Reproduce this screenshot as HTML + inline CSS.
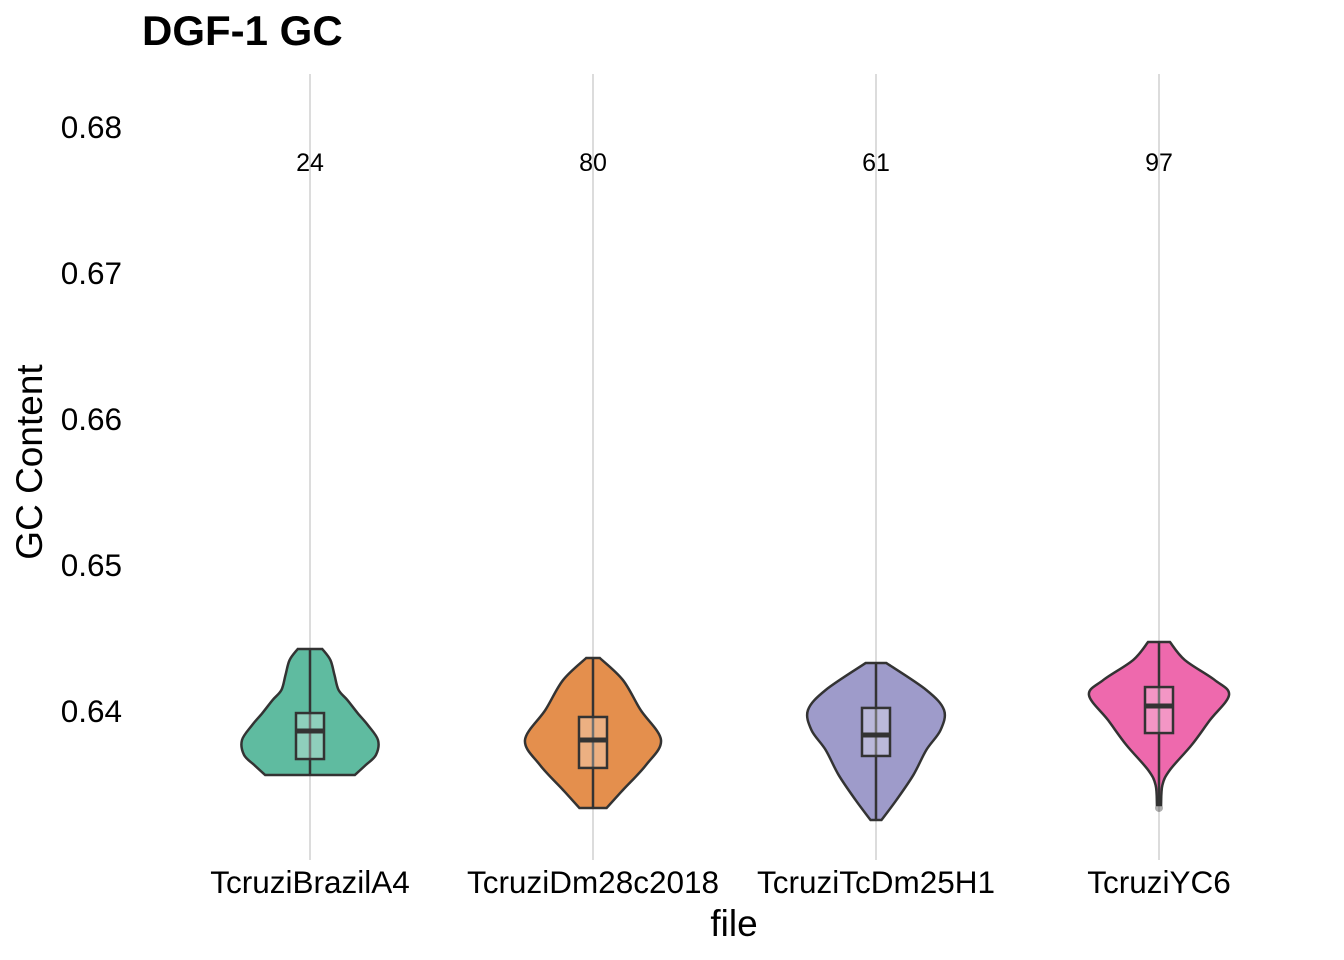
<!DOCTYPE html>
<html><head><meta charset="utf-8"><style>
body{margin:0;background:#fff;}
svg{display:block;font-family:"Liberation Sans",sans-serif;}
</style></head><body>
<svg id="chart" width="1344" height="960">
<text x="142" y="45" font-size="42" font-weight="bold" fill="#000">DGF-1 GC</text>
<text transform="translate(42,462) rotate(-90)" text-anchor="middle" font-size="37" fill="#000">GC Content</text>
<text x="734" y="936" text-anchor="middle" font-size="37" fill="#000">file</text>
<g id="grid"></g><g id="yticks"></g><g id="violins"></g><g id="labels"></g>
</svg>
<script>
const categories=["TcruziBrazilA4","TcruziDm28c2018","TcruziTcDm25H1","TcruziYC6"];
const counts=[24,80,61,97];
const yTicks=[0.64,0.65,0.66,0.67,0.68];
const yTickLabels=["0.64","0.65","0.66","0.67","0.68"];
const colors=["#1b9e77","#d95f02","#7570b3","#e7298a"];
const densGC=[
[0.64425,0.64349,0.64247,0.64144,0.64075,0.63986,0.63904,0.63801,0.63699,0.6363,0.63562],
[0.64363,0.64212,0.64007,0.63801,0.6363,0.63459,0.63336],
[0.64329,0.64144,0.64007,0.6387,0.63733,0.63562,0.6339,0.63253],
[0.64473,0.64349,0.64212,0.6411,0.63938,0.63767,0.63596,0.63493,0.63356]];
const densVal=[
[0.18,0.3,0.36,0.42,0.55,0.7,0.85,1.0,0.97,0.82,0.66],
[0.1,0.44,0.7,1.0,0.78,0.44,0.2],
[0.15,0.74,1.0,0.95,0.74,0.55,0.3,0.08],
[0.16,0.38,0.82,1.03,0.75,0.48,0.16,0.05,0.03]];
const q1=[0.63671,0.6361,0.63692,0.63849];
const med=[0.63863,0.63801,0.63836,0.64034];
const q3=[0.63986,0.63959,0.64021,0.64164];
const whiskLo=[0.63562,0.63336,0.63253,0.63356];
const whiskHi=[0.64425,0.64363,0.64329,0.64473];
const outliers=[[],[],[],[0.63336]];

const NS="http://www.w3.org/2000/svg";
function y(v){return 711-(v-0.64)*14600;}
function x(i){return 310+i*283;}
const halfMax=68;
function mk(tag,attrs,parent){const e=document.createElementNS(NS,tag);for(const k in attrs)e.setAttribute(k,attrs[k]);document.getElementById(parent).appendChild(e);return e;}
function smooth(pts){let d="";for(let i=0;i<pts.length-1;i++){const p0=pts[Math.max(0,i-1)],p1=pts[i],p2=pts[i+1],p3=pts[Math.min(pts.length-1,i+2)];
const c1=[p1[0]+(p2[0]-p0[0])/6,p1[1]+(p2[1]-p0[1])/6],c2=[p2[0]-(p3[0]-p1[0])/6,p2[1]-(p3[1]-p1[1])/6];
d+=` C${c1[0]},${c1[1]} ${c2[0]},${c2[1]} ${p2[0]},${p2[1]}`;}return d;}
categories.forEach((c,i)=>{
 const g=mk("line",{x1:x(i),x2:x(i),y1:74,y2:860,stroke:"#dcdcdc","stroke-width":2},"grid");
 
 
 const lab=mk("text",{x:x(i),y:893,"text-anchor":"middle","font-size":31.5,fill:"#000"},"labels");lab.textContent=c;
 
 
 const ct=mk("text",{x:x(i),y:171,"text-anchor":"middle","font-size":25,fill:"#000"},"labels");ct.textContent=counts[i];
 
 
 const L=densGC[i].map((v,k)=>[x(i)-densVal[i][k]*halfMax,y(v)]);
 const R=densGC[i].map((v,k)=>[x(i)+densVal[i][k]*halfMax,y(v)]).reverse();
 let d=`M${L[0][0]},${L[0][1]}`+smooth(L)+` L${R[0][0]},${R[0][1]}`+smooth(R)+"Z";
 const v=mk("path",{d:d,fill:colors[i],"fill-opacity":0.7,stroke:"#333","stroke-width":2.5},"violins");
 
 
 const w=mk("line",{x1:x(i),x2:x(i),y1:y(whiskHi[i]),y2:y(whiskLo[i]),stroke:"#333","stroke-width":2.5},"violins");
 
 
 const b=mk("rect",{x:x(i)-14,y:y(q3[i]),width:28,height:y(q1[i])-y(q3[i]),fill:"#fff","fill-opacity":0.3,stroke:"#333","stroke-width":2.5},"violins");
 
 
 const m=mk("line",{x1:x(i)-14,x2:x(i)+14,y1:y(med[i]),y2:y(med[i]),stroke:"#333","stroke-width":5},"violins");
 
 
 outliers[i].forEach(o=>{const p=mk("circle",{cx:x(i),cy:y(o),r:4,fill:"#333","fill-opacity":0.4},"violins");
 
 });
});
yTicks.forEach((t,k)=>{const e=mk("text",{x:122,y:y(t)+11,"text-anchor":"end","font-size":31.5,fill:"#000"},"yticks");e.textContent=yTickLabels[k];
 
 });
</script>
</body></html>
